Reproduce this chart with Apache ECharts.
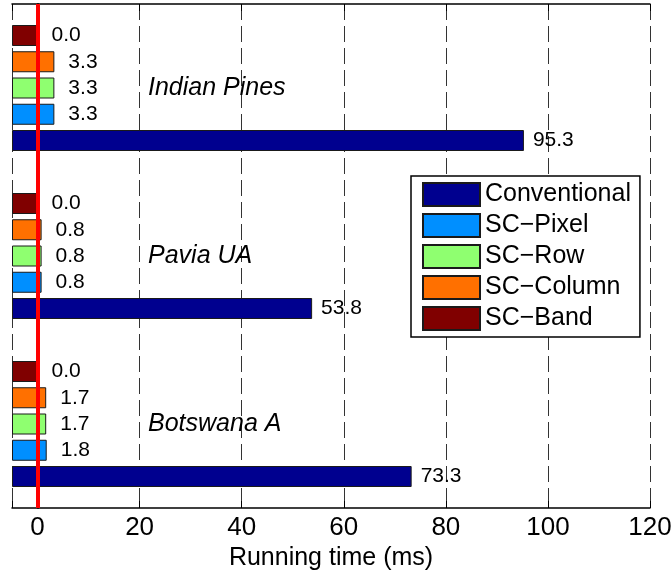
<!DOCTYPE html>
<html><head><meta charset="utf-8">
<script src="https://cdn.jsdelivr.net/npm/echarts@6/dist/echarts.min.js"></script>
<style>html,body{margin:0;padding:0;background:#fff}#c{width:672px;height:573px}</style>
</head><body><div id="c"></div>
<script>
// categories listed bottom to top
const categories = ['Botswana A', 'Pavia UA', 'Indian Pines'];
const seriesNames = ['Conventional', 'SC\u2212Pixel', 'SC\u2212Row', 'SC\u2212Column', 'SC\u2212Band'];
const conventional = [73.3, 53.8, 95.3];
const scPixel = [1.8, 0.8, 3.3];
const scRow = [1.7, 0.8, 3.3];
const scColumn = [1.7, 0.8, 3.3];
const scBand = [0.0, 0.0, 0.0];
const xTickLabels = [0, 20, 40, 60, 80, 100, 120];
const X_MIN = -5, X_MAX = 120;

const colors = ['#00008f', '#008fff', '#8fff70', '#ff7000', '#800000'];
const values = [conventional, scPixel, scRow, scColumn, scBand];
const FONT = 'Liberation Sans, Arial, Helvetica, sans-serif';

const chart = echarts.init(document.getElementById('c'), null, {renderer: 'canvas'});

const series = [];
// ECharts places the first series at the top of each band: add in reverse order
for (let i = values.length - 1; i >= 0; i--) {
  const vals = values[i];
  // invisible base from 0 down to axis minimum, so bars start at the left frame
  series.push({
    type: 'bar', name: 'base' + i, stack: 's' + i, stackStrategy: 'all',
    data: categories.map(() => X_MIN), barWidth: 21, barGap: '25%',
    itemStyle: {color: 'rgba(0,0,0,0)'}, silent: true, label: {show: false}
  });
  series.push({
    type: 'bar', name: seriesNames[i], stack: 's' + i, stackStrategy: 'all',
    data: vals.map(v => v - X_MIN), barWidth: 21, barGap: '25%',
    itemStyle: {color: colors[i], borderColor: '#1a1a1a', borderWidth: 1},
    label: {
      show: true, position: 'right', distance: i === 0 ? 9 : 14,
      fontFamily: FONT, fontSize: 21, color: '#000',
      formatter: p => (p.value + X_MIN).toFixed(1)
    }
  });
}
// red zero line
series[series.length - 1].z = 4;
series[series.length - 1].markLine = {
  silent: true, symbol: 'none', label: {show: false},
  lineStyle: {color: '#ff0000', width: 4, type: 'solid'},
  data: [{xAxis: 0}]
};

const xCommon = {
  type: 'value', min: X_MIN, max: X_MAX, minInterval: 20, maxInterval: 20,
  axisLine: {show: true, lineStyle: {color: '#000', width: 1.5}},
  axisTick: {show: true, inside: true, length: 7, lineStyle: {color: '#000'}},
};

chart.setOption({
  animation: false,
  textStyle: {fontFamily: FONT},
  grid: {left: 12, right: 22, top: 4, bottom: 65, containLabel: false, outerBoundsMode: 'none'},
  xAxis: [
    Object.assign({}, xCommon, {
      position: 'bottom',
      name: 'Running time (ms)', nameLocation: 'middle', nameGap: 34,
      nameTextStyle: {fontFamily: FONT, fontSize: 25, color: '#000'},
      axisLabel: {
        fontFamily: FONT, fontSize: 26, color: '#000', margin: 7,
        formatter: v => xTickLabels.indexOf(v) >= 0 ? String(v) : ''
      },
      splitLine: {show: true, lineStyle: {color: '#333', width: 1, type: [16, 6]}}
    }),
    Object.assign({}, xCommon, {
      position: 'top', axisLabel: {show: false}, splitLine: {show: false}
    })
  ],
  yAxis: [
    {
      type: 'category', data: categories, position: 'left',
      axisLine: {show: true, lineStyle: {color: '#000', width: 1.5}},
      axisTick: {show: false},
      axisLabel: {inside: true, margin: 136, fontFamily: FONT, fontSize: 25,
        fontStyle: 'italic', color: '#000', align: 'left'},
      splitLine: {show: false}
    },
    {
      type: 'category', data: categories, position: 'right',
      axisLine: {show: true, lineStyle: {color: '#000', width: 1.5}},
      axisTick: {show: true, inside: true, length: 6, alignWithLabel: true, lineStyle: {color: '#000'}},
      axisLabel: {show: false}, splitLine: {show: false}
    }
  ],
  legend: {
    data: seriesNames, orient: 'vertical', left: 411, top: 176,
    padding: [6, 9, 6, 11], itemWidth: 57, itemHeight: 23, itemGap: 6,
    icon: 'rect',
    textStyle: {fontFamily: FONT, fontSize: 25, color: '#000'},
    borderColor: '#000', borderWidth: 1.5, backgroundColor: '#fff',
    selectedMode: false
  },
  series: series
});
</script></body></html>
